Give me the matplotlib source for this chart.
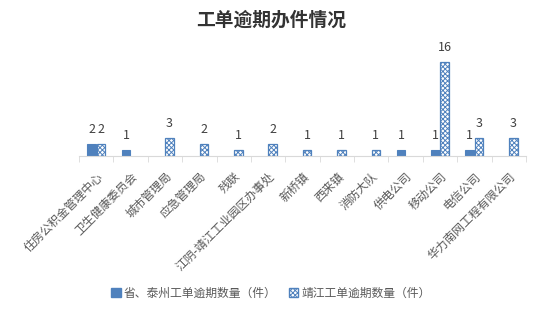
import matplotlib
matplotlib.use("Agg")
import matplotlib.pyplot as plt
import numpy as np
from matplotlib.patches import Patch

plt.rcParams['font.family'] = ['Noto Sans CJK SC', 'DejaVu Sans']
plt.rcParams['hatch.linewidth'] = 0.7

categories = ["住房公积金管理中心", "卫生健康委员会", "城市管理局", "应急管理局", "残联",
              "江阴-靖江工业园区办事处", "新桥镇", "西来镇", "消防大队", "供电公司",
              "移动公司", "电信公司", "华力南网工程有限公司"]
series1_name = "省、泰州工单逾期数量（件）"
series2_name = "靖江工单逾期数量（件）"
series1 = [2, 1, None, None, None, None, None, None, None, 1, 1, 1, None]
series2 = [2, None, 3, 2, 1, 2, 1, 1, 1, None, 16, 3, 3]

blue = '#4F81BD'
fig = plt.figure(figsize=(5.42, 3.12), dpi=100)
ax = fig.add_axes([79/542, 0.5, (526-79)/542, 0.34])

n = len(categories)
x = np.arange(n)
w = 0.25
gap = 0.01
for i in range(n):
    v1, v2 = series1[i], series2[i]
    if v1 is not None:
        ax.bar(x[i] - w/2 - gap, v1, w, color=blue, edgecolor=blue, linewidth=0.8)
        ax.annotate(str(v1), (x[i] - w/2 - gap, v1), xytext=(0, 8), textcoords='offset pixels',
                    ha='center', va='bottom', fontsize=9, color='#404040')
    if v2 is not None:
        ax.bar(x[i] + w/2 + gap, v2, w, color='white', edgecolor=blue, hatch='xxxxxxx', linewidth=0.9)
        ax.annotate(str(v2), (x[i] + w/2 + gap, v2), xytext=(0, 8), textcoords='offset pixels',
                    ha='center', va='bottom', fontsize=9, color='#404040')

ax.set_xlim(-0.5, n - 0.5)
ax.set_ylim(0, 18)
for s in ['top', 'right', 'left']:
    ax.spines[s].set_visible(False)
ax.spines['bottom'].set_color('#d9d9d9')
ax.set_yticks([])
ax.set_xticks(x)
ax.set_xticklabels(categories, rotation=45, ha='right', va='top', rotation_mode='anchor',
                   fontsize=8.5, color='#595959')
ax.tick_params(axis='x', which='major', length=0, pad=10)
ax.set_xticks(np.arange(-0.5, n, 1), minor=True)
ax.tick_params(axis='x', which='minor', length=4, color='#d9d9d9')

fig.text(0.5, 1 - 20/312, "工单逾期办件情况", ha='center', va='center', fontsize=13.5,
         fontweight='bold', color='#333333')

handles = [Patch(facecolor=blue, edgecolor=blue, label=series1_name),
           Patch(facecolor='white', edgecolor=blue, hatch='xxxxxxx', label=series2_name)]
fig.legend(handles=handles, loc='center', bbox_to_anchor=(0.5, 1 - 293/312), ncol=2,
           frameon=False, fontsize=8.5, handlelength=0.8, handleheight=0.8,
           handletextpad=0.3, columnspacing=1.0, labelcolor='#595959')

fig.savefig('out.png', dpi=100)
